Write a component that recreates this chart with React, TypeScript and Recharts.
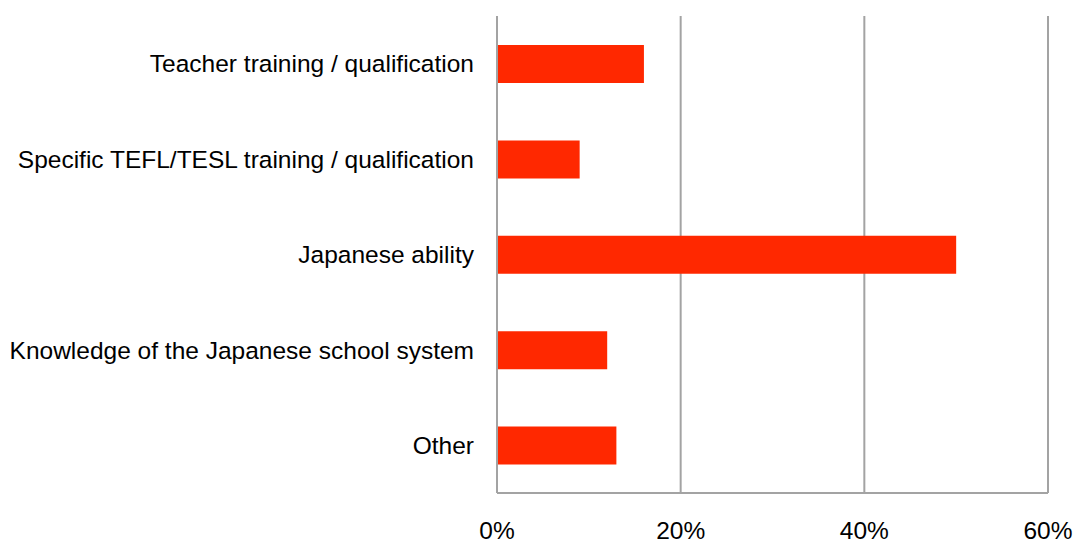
import React from 'react';
import { BarChart, Bar, XAxis, YAxis, CartesianGrid } from 'recharts';

const categories = [
  'Teacher training / qualification',
  'Specific TEFL/TESL training / qualification',
  'Japanese ability',
  'Knowledge of the Japanese school system',
  'Other',
];
const percentages = [16, 9, 50, 12, 13];
const xTicks = [0, 20, 40, 60];

const data = categories.map((name, i) => ({ name, value: percentages[i] }));

const font = '"Liberation Sans", Arial, sans-serif';

const App: React.FC = () => {
  return (
    <div style={{ position: 'absolute', left: 0, top: 0, width: 1073, height: 543, background: '#fff' }}>
      <BarChart
        width={1073}
        height={543}
        data={data}
        layout="vertical"
        margin={{ top: 16, right: 25, bottom: 0, left: 0 }}
      >
        <CartesianGrid horizontal={false} vertical stroke="#a3a3a3" strokeWidth={2} />
        <XAxis
          type="number"
          domain={[0, 60]}
          ticks={xTicks}
          tickFormatter={(v: number) => `${v}%`}
          height={50}
          axisLine={{ stroke: '#a3a3a3', strokeWidth: 2 }}
          tickLine={false}
          tickMargin={23}
          tick={{ fill: '#000', fontSize: 24.5, fontFamily: font }}
          interval={0}
        />
        <YAxis
          type="category"
          dataKey="name"
          width={497}
          axisLine={{ stroke: '#a3a3a3', strokeWidth: 2 }}
          tickLine={false}
          tickMargin={17}
          tick={{ fill: '#000', fontSize: 24.5, fontFamily: font }}
          interval={0}
        />
        <Bar dataKey="value" fill="#ff2800" barSize={38} isAnimationActive={false} />
      </BarChart>
    </div>
  );
};

export default App;
